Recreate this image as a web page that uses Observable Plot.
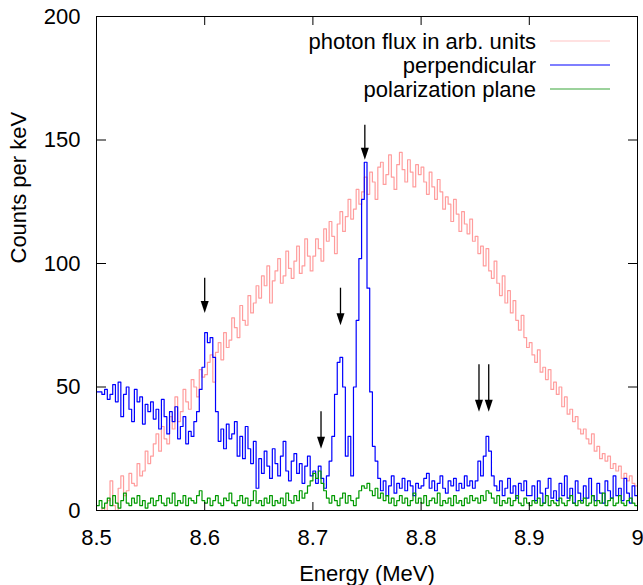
<!DOCTYPE html>
<html>
<head>
<meta charset="utf-8">
<script src="https://cdn.jsdelivr.net/npm/d3@7"></script>
<script src="https://cdn.jsdelivr.net/npm/@observablehq/plot@0.6"></script>
<style>
  html, body { margin: 0; padding: 0; background: #fff; }
  #chart { width: 643px; height: 585px; }
</style>
</head>
<body>
<div id="chart"></div>
<script>
// Energy grid of the histogram (MeV)
const energyStart = 8.5;
const binWidth = 0.0025;

// photon flux in arb. units (200 bins, 8.5 - 9.0 MeV)
const photonFlux = [
  0, 0, 1, 0, 4, 12, 2, 0, 9, 14, 6, 8, 15, 11, 10, 19, 14, 16, 24, 19,
  22, 27, 31, 24, 34, 29, 27, 38, 33, 46, 36, 40, 49, 44, 41, 53, 50, 46, 57, 54,
  55, 60, 63, 52, 64, 68, 61, 72, 66, 69, 78, 74, 70, 83, 77, 75, 87, 80, 84, 91,
  86, 95, 91, 99, 84, 93, 97, 102, 92, 95, 105, 98, 94, 101, 107, 96, 99, 110, 103, 97,
  103, 110, 106, 101, 114, 109, 117, 111, 104, 116, 121, 113, 119, 126, 118, 122, 130, 124, 129, 135,
  128, 137, 133, 126, 139, 141, 132, 136, 144, 135, 130, 140, 145, 138, 133, 142, 137, 131, 140, 136,
  139, 133, 128, 137, 131, 126, 134, 129, 122, 127, 124, 117, 126, 120, 113, 121, 116, 112, 118, 109,
  111, 104, 107, 99, 106, 97, 94, 101, 92, 87, 95, 84, 89, 80, 85, 77, 73, 79, 70, 66,
  68, 63, 60, 65, 56, 58, 53, 57, 49, 52, 47, 50, 42, 46, 39, 41, 36, 38, 33, 31,
  33, 29, 27, 31, 24, 26, 21, 23, 20, 22, 17, 19, 16, 18, 13, 15, 12, 14, 11, 10
];

// perpendicular
const perpendicular = [
  48, 48, 47, 49, 45, 47, 51, 44, 52, 38, 47, 50, 41, 36, 49, 44, 46, 35, 43, 40,
  44, 37, 41, 33, 45, 38, 31, 40, 36, 42, 29, 34, 38, 27, 32, 30, 36, 40, 49, 58,
  72, 68, 70, 62, 40, 28, 33, 25, 35, 29, 31, 36, 22, 30, 21, 34, 25, 19, 28, 9,
  21, 15, 24, 18, 13, 25, 19, 14, 22, 28, 16, 12, 20, 23, 15, 19, 11, 18, 22, 14,
  16, 11, 18, 13, 9, 14, 20, 30, 47, 60, 62, 50, 22, 30, 14, 50, 77, 102, 126, 141,
  90, 48, 26, 20, 13, 8, 12, 6, 10, 14, 7, 11, 9, 13, 8, 12, 10, 6, 11, 9,
  10, 13, 15, 9, 12, 8, 11, 14, 9, 7, 12, 10, 13, 8, 11, 9, 14, 10, 12, 9,
  12, 20, 14, 22, 30, 24, 14, 10, 8, 12, 6, 9, 13, 7, 10, 5, 11, 8, 12, 6,
  6, 10, 4, 12, 7, 3, 9, 13, 5, 8, 4, 11, 6, 14, 5, 9, 3, 12, 7, 4,
  10, 5, 13, 6, 4, 11, 7, 3, 12, 8, 5, 14, 6, 9, 4, 13, 7, 3, 10, 6
];

// polarization plane
const polarizationPlane = [
  2, 4, 1, 3, 5, 2, 6, 3, 1, 4, 7, 3, 2, 5, 3, 6, 2, 4, 1, 3,
  5, 2, 4, 6, 3, 2, 5, 3, 7, 2, 4, 3, 6, 2, 5, 4, 3, 6, 8, 4,
  3, 5, 2, 4, 6, 3, 2, 5, 4, 7, 3, 2, 4, 6, 3, 5, 2, 4, 8, 3,
  4, 2, 5, 3, 6, 2, 4, 3, 5, 2, 7, 4, 3, 6, 4, 8, 5, 7, 10, 12,
  15, 13, 16, 11, 8, 5, 3, 6, 4, 2, 5, 7, 3, 6, 4, 2, 5, 8, 10, 9,
  11, 8, 6, 9, 5, 7, 4, 6, 3, 5, 2, 4, 6, 3, 5, 2, 4, 7, 3, 5,
  3, 6, 2, 4, 5, 3, 7, 2, 4, 3, 5, 2, 6, 3, 4, 2, 5, 3, 6, 4,
  5, 3, 6, 4, 8, 7, 5, 3, 6, 2, 4, 3, 5, 2, 4, 6, 3, 2, 5, 3,
  2, 4, 3, 5, 2, 3, 6, 2, 4, 3, 2, 5, 3, 2, 4, 6, 3, 2, 4, 3,
  5, 2, 3, 6, 2, 4, 3, 7, 2, 4, 5, 2, 3, 6, 3, 2, 4, 5, 3, 2
];

// arrows marking lines: energy, tail value, tip value
const arrowEnergy = [8.600, 8.7255, 8.748, 8.7075, 8.8535, 8.8625];
const arrowTail   = [94, 90, 156, 40, 59, 59];
const arrowTip    = [80, 75, 142, 25, 40, 40];

const xTicks = [8.5, 8.6, 8.7, 8.8, 8.9, 9.0];
const xTickLabels = ["8.5", "8.6", "8.7", "8.8", "8.9", "9"];
const yTicks = [0, 50, 100, 150, 200];

const seriesNames = ["photon flux in arb. units", "perpendicular", "polarization plane"];
const seriesColors = ["#ff9d9d", "#0000ff", "#009a00"];
const legendColors = ["#ffc4c4", "#0000ff", "#3aa53a"];

function toSteps(values) {
  const rows = values.map((v, i) => ({x: energyStart + i * binWidth, y: v}));
  rows.push({x: energyStart + values.length * binWidth, y: values[values.length - 1]});
  return rows;
}

const arrows = arrowEnergy.map((e, i) => ({x: e, tail: arrowTail[i], tip: arrowTip[i]}));

const headSymbol = {
  draw(ctx) {
    ctx.moveTo(0, 0);
    ctx.lineTo(-4, -12);
    ctx.lineTo(4, -12);
    ctx.closePath();
  }
};

const FONT = "'Liberation Sans', Arial, Helvetica, sans-serif";

const plot = Plot.plot({
  width: 643,
  height: 585,
  marginLeft: 96,
  marginRight: 6,
  marginTop: 16,
  marginBottom: 75,
  style: {fontFamily: FONT, fontSize: "22px", background: "#fff", overflow: "visible"},
  x: {domain: [8.5, 9.0]},
  y: {domain: [0, 200]},
  marks: [
    Plot.line(toSteps(photonFlux), {x: "x", y: "y", curve: "step-after", stroke: seriesColors[0], strokeWidth: 1.2, clip: true}),
    Plot.line(toSteps(perpendicular), {x: "x", y: "y", curve: "step-after", stroke: seriesColors[1], strokeWidth: 1.2, clip: true}),
    Plot.line(toSteps(polarizationPlane), {x: "x", y: "y", curve: "step-after", stroke: seriesColors[2], strokeWidth: 1.2, clip: true}),
    Plot.ruleX(arrows, {x: "x", y1: "tail", y2: "tip", stroke: "#000", strokeWidth: 1.3, insetBottom: 8}),
    Plot.dot(arrows, {x: "x", y: "tip", symbol: headSymbol, fill: "#000", stroke: "none", r: 4}),
    Plot.frame({stroke: "#000", strokeWidth: 1}),
    Plot.axisX({anchor: "bottom", ticks: xTicks, tickFormat: (d, i) => xTickLabels[i], tickSize: -8, tickPadding: 27, fontSize: 22, label: null}),
    Plot.axisX({anchor: "top", ticks: xTicks, tickFormat: () => "", tickSize: -8, label: null}),
    Plot.axisY({anchor: "left", ticks: yTicks, tickSize: -10, tickPadding: 26, fontSize: 22, label: null}),
    Plot.axisY({anchor: "right", ticks: yTicks, tickFormat: () => "", tickSize: -10, label: null}),
    Plot.text(["Energy (MeV)"], {frameAnchor: "bottom", dy: 63, text: d => d, fontSize: 22, lineAnchor: "middle", fill: "#000"}),
    Plot.text(["Counts per keV"], {frameAnchor: "left", dx: -78, rotate: -90, text: d => d, fontSize: 22, lineAnchor: "middle", fill: "#000"})
  ]
});

document.getElementById("chart").appendChild(plot);

// Legend (inside the plot, top right)
const svg = d3.select(plot);
const leg = svg.append("g").attr("font-family", FONT).attr("font-size", 22);
const rowY = [41, 65, 89];
seriesNames.forEach((name, i) => {
  leg.append("text")
    .attr("x", 536).attr("y", rowY[i]).attr("dy", "0.35em")
    .attr("text-anchor", "end").attr("fill", "#000")
    .text(name);
  leg.append("line")
    .attr("x1", 550).attr("x2", 610).attr("y1", rowY[i]).attr("y2", rowY[i])
    .attr("stroke", legendColors[i]).attr("stroke-width", 1.2);
});
</script>
</body>
</html>
